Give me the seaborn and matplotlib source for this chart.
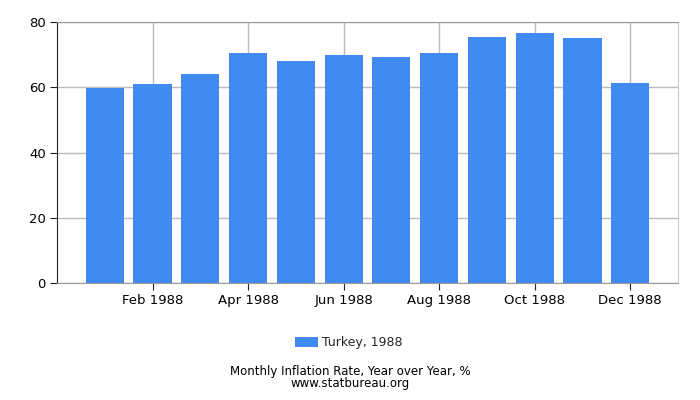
import pandas as pd
import matplotlib.pyplot as plt
import seaborn as sns

# Turkey inflation, 1988
months = ["Jan 1988", "Feb 1988", "Mar 1988", "Apr 1988", "May 1988", "Jun 1988",
          "Jul 1988", "Aug 1988", "Sep 1988", "Oct 1988", "Nov 1988", "Dec 1988"]
rates = [59.7, 61.1, 64.2, 70.6, 68.1, 69.9, 69.4, 70.6, 75.5, 76.7, 75.2, 61.4]
tick_labels = ["Feb 1988", "Apr 1988", "Jun 1988", "Aug 1988", "Oct 1988", "Dec 1988"]

df = pd.DataFrame({"Month": months, "Rate": rates})

sns.set_style("white")
plt.rcParams["font.family"] = ["DejaVu Sans"]

fig = plt.figure(figsize=(7, 4), dpi=100)
ax = fig.add_axes([0.0814, 0.2925, 0.8872, 0.6525])

sns.barplot(data=df, x="Month", y="Rate", color="#418bf0", saturation=1,
            width=0.8, linewidth=0, ax=ax, label="Turkey, 1988")

ax.set_xlim(-1, 12)
ax.set_ylim(0, 80)
ax.set_yticks([0, 20, 40, 60, 80])
ax.set_xticks([months.index(t) for t in tick_labels])
ax.set_xticklabels(tick_labels)
ax.set_xlabel("")
ax.set_ylabel("")

ax.grid(True, color="#bbbbbb", linewidth=1)
ax.set_axisbelow(True)
for side in ["top", "bottom"]:
    ax.spines[side].set_color("#999999")
ax.spines["right"].set_color("#cccccc")
ax.spines["left"].set_color("#222222")
ax.tick_params(axis="both", direction="out", length=5, color="#222222",
               labelcolor="black", labelsize=9.5, pad=3, left=True, bottom=True)

ax.legend(loc="upper center", bbox_to_anchor=(0.47, -0.16), frameon=False,
          fontsize=9, handlelength=1.8, handleheight=0.9, handletextpad=0.3)

fig.text(0.5, 0.063, "Monthly Inflation Rate, Year over Year, %", ha="center",
         fontsize=8.5, color="black")
fig.text(0.5, 0.033, "www.statbureau.org", ha="center", fontsize=8.5, color="black")

plt.savefig("out.png", dpi=100)
plt.close()
